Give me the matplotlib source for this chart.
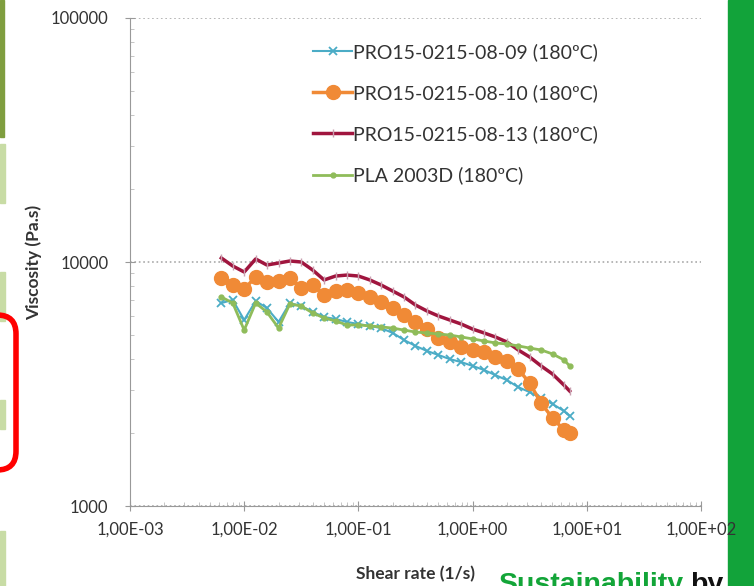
import matplotlib.pyplot as plt
from matplotlib.patches import Rectangle, FancyBboxPatch
from matplotlib.ticker import FixedLocator, FuncFormatter, LogLocator, NullFormatter

plt.rcParams['font.family'] = ['Lato', 'DejaVu Sans']

# shear rate (1/s), same grid for all series
shear = [0.00631, 0.00794, 0.01, 0.0126, 0.0158, 0.02, 0.0251, 0.0316, 0.0398, 0.0501,
         0.0631, 0.0794, 0.1, 0.126, 0.158, 0.2, 0.251, 0.316, 0.398, 0.501,
         0.631, 0.794, 1.0, 1.26, 1.58, 2.0, 2.51, 3.16, 3.98, 5.01, 6.31, 7.08]

# viscosity (Pa.s)
visc_09 = [6790, 6990, 5785, 6920, 6480, 5680, 6790, 6600, 6240, 5950,
           5840, 5680, 5570, 5470, 5360, 5120, 4790, 4530, 4320, 4160,
           4000, 3890, 3750, 3610, 3440, 3280, 3070, 2930, 2770, 2620, 2450, 2340]
visc_10 = [8600, 8050, 7750, 8680, 8280, 8360, 8600, 7825, 8050, 7325,
           7605, 7680, 7465, 7190, 6860, 6480, 6065, 5680, 5310, 4880,
           4700, 4480, 4360, 4280, 4080, 3930, 3640, 3190, 2640, 2295, 2050, 1990]
visc_13 = [10385, 9630, 9100, 10290, 9720, 9905, 10095, 10000, 9270, 8440,
           8760, 8840, 8760, 8440, 8050, 7600, 7190, 6665, 6300, 6010,
           5785, 5570, 5310, 5120, 4930, 4700, 4360, 4080, 3750, 3475, 3130, 2960]
visc_pla = [7190, 6790, 5260, 6790, 6240, 5360, 6730, 6600, 6180, 5900,
            5730, 5520, 5520, 5470, 5420, 5360, 5260, 5165, 5120, 5070,
            5020, 4930, 4840, 4745, 4660, 4610, 4530, 4440, 4360, 4200, 3970, 3750]

labels = ['PRO15-0215-08-09 (180ºC)', 'PRO15-0215-08-10 (180ºC)',
          'PRO15-0215-08-13 (180ºC)', 'PLA 2003D (180ºC)']
x_ticks = [1e-3, 1e-2, 1e-1, 1e0, 1e1, 1e2]
x_tick_labels = ['1,00E-03', '1,00E-02', '1,00E-01', '1,00E+00', '1,00E+01', '1,00E+02']
y_ticks = [1000, 10000, 100000]

fig = plt.figure(figsize=(7.54, 5.86), dpi=100)
ax = fig.add_axes([0.1724, 0.1365, 0.7573, 0.8328])

ax.plot(shear, visc_09, color='#4bacc6', lw=1.5, marker='x', ms=6, mew=1.3, label=labels[0], zorder=3)
ax.plot(shear, visc_10, color='#f08a36', lw=2.5, marker='o', ms=10, label=labels[1], zorder=4)
ax.plot(shear, visc_13, color='#a0153e', lw=2.5, marker='|', ms=6, mec='#c9a0b0', label=labels[2], zorder=5)
ax.plot(shear, visc_pla, color='#8fbc5a', lw=2, marker='o', ms=3.5, label=labels[3], zorder=6)

ax.set_xscale('log')
ax.set_yscale('log')
ax.set_xlim(1e-3, 1e2)
ax.set_ylim(1000, 100000)

ax.xaxis.set_major_locator(FixedLocator(x_ticks))
ax.xaxis.set_major_formatter(FuncFormatter(lambda v, p: x_tick_labels[x_ticks.index(v)] if v in x_ticks else ''))
ax.xaxis.set_minor_locator(LogLocator(base=10, subs=range(2, 10)))
ax.xaxis.set_minor_formatter(NullFormatter())
ax.yaxis.set_major_locator(FixedLocator(y_ticks))
ax.yaxis.set_major_formatter(FuncFormatter(lambda v, p: '%d' % v))
ax.yaxis.set_minor_locator(LogLocator(base=10, subs=range(2, 10)))
ax.yaxis.set_minor_formatter(NullFormatter())

ax.tick_params(axis='both', which='major', direction='inout', length=7, color='#999999',
               labelsize=12, labelcolor='#333333')
ax.tick_params(axis='x', which='major', pad=8)
ax.tick_params(axis='y', which='major', pad=12)
ax.tick_params(axis='both', which='minor', direction='in', length=3, color='#bbbbbb')

ax.yaxis.grid(True, which='major', ls=':', color='#aaaaaa', lw=1.2)
for s in ['top', 'right']:
    ax.spines[s].set_visible(False)
for s in ['left', 'bottom']:
    ax.spines[s].set_color('#999999')

ax.set_xlabel('Shear rate (1/s)', fontsize=12.5, fontweight='bold', color='#333333', labelpad=20)
ax.set_ylabel('Viscosity (Pa.s)', fontsize=12.5, fontweight='bold', color='#333333', labelpad=6)

ax.legend(loc='upper left', bbox_to_anchor=(0.29, 0.985), frameon=False, fontsize=14,
          handlelength=2.0, handletextpad=0.05, labelspacing=1.2, labelcolor='#333333')

# screenshot surroundings, drawn beneath the chart
fig.patches.append(Rectangle((728 / 754, 0), 26 / 754, 1, transform=fig.transFigure,
                             color='#12a33a', zorder=-1))
fig.patches.append(Rectangle((0, 1 - 137 / 586), 4 / 754, 137 / 586, transform=fig.transFigure,
                             color='#7f9e3f', zorder=-1))
for top, bot in [(144, 203), (272, 321), (400, 429), (531, 586)]:
    fig.patches.append(Rectangle((0, 1 - bot / 586), 5 / 754, (bot - top) / 586,
                                 transform=fig.transFigure, color='#c8dca5', zorder=-1))
fig.patches.append(FancyBboxPatch((-20 / 754, 1 - 470 / 586), 36 / 754, 155 / 586,
                                  boxstyle='round,pad=0,rounding_size=0.025',
                                  transform=fig.transFigure, fill=False, ec='#ff0000', lw=4,
                                  mutation_aspect=754 / 586, zorder=1))
fig.text(498 / 754, 1 - 572 / 586, 'Sustainability', color='#13a538', fontsize=20.5,
         fontweight='bold', va='top', ha='left', family=['Liberation Sans', 'DejaVu Sans'])
fig.text(690 / 754, 1 - 572 / 586, 'by', color='#111111', fontsize=20.5,
         fontweight='bold', va='top', ha='left', family=['Liberation Sans', 'DejaVu Sans'])

fig.savefig('out.png', dpi=100)
